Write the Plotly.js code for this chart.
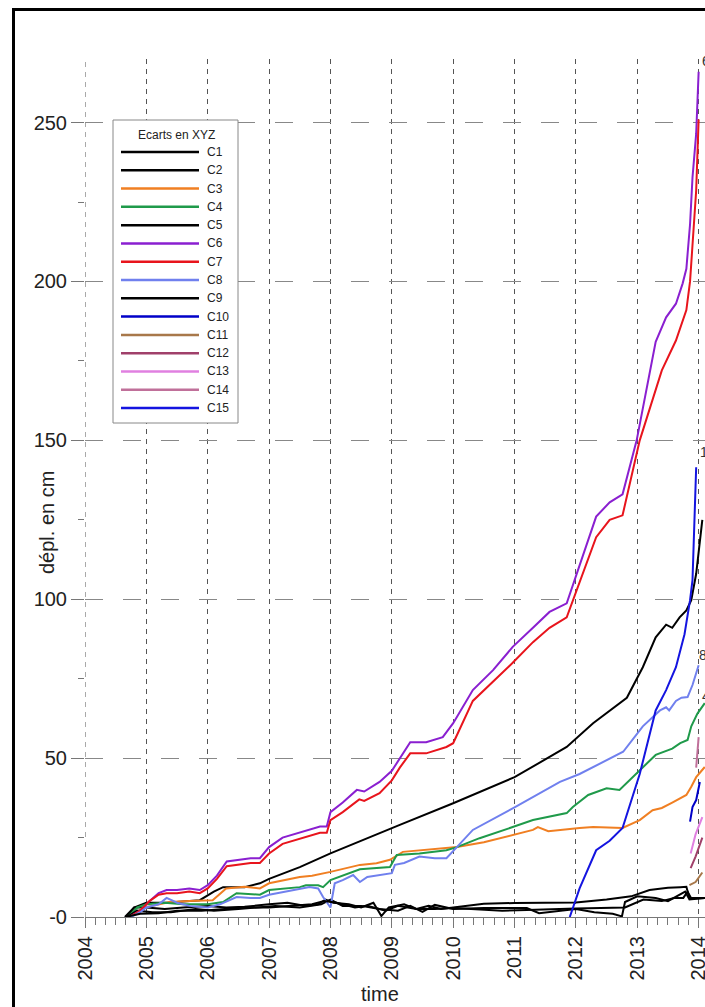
<!DOCTYPE html>
<html><head><meta charset="utf-8">
<script src="https://cdn.plot.ly/plotly-3.0.1.min.js"></script>
<style>
html,body{margin:0;padding:0;overflow:hidden;width:705px;height:1007px;background:#fff}
#chart{position:absolute;left:0;top:0;width:780px;height:1007px}
#frame{position:absolute;left:12px;top:8px;width:900px;height:1200px;border-left:3px solid #000;border-top:3px solid #000;pointer-events:none}
</style></head>
<body><div id="chart"></div><div id="frame"></div>
<script>
// ---- data (decimal years, displacement in cm) ----
const seriesNames = ['C1','C2','C3','C4','C5','C6','C7','C8','C9','C10','C11','C12','C13','C14','C15'];
const seriesColors = ['#000000','#000000','#f07f22','#1f9a4a','#000000','#8a1fd0','#e8141c','#7080ee','#000000','#0000c8','#a8784a','#a0406a','#e080e0','#c0709a','#1414e0'];

const tC1 = [2004.68,2004.8,2005.0,2005.33,2005.87,2006.1,2006.25,2006.6,2006.85,2007.0,2007.5,2008.0,2009.13,2010.0,2011.0,2011.85,2012.28,2012.83,2013.09,2013.3,2013.47,2013.57,2013.69,2013.8,2013.88,2013.96,2014.06];
const vC1 = [0,3,4.5,4.5,5.3,8,9.4,9.4,10.6,12,15.7,20,29,35.8,44,53.5,61,69,78.6,88,92,91,94.3,96.5,99.7,108,125];

const tC2 = [2004.65,2004.8,2005.0,2005.3,2005.6,2006.0,2006.3,2006.6,2007.0,2007.3,2007.6,2007.8,2007.92,2008.05,2008.3,2008.5,2008.7,2008.83,2008.95,2009.2,2009.4,2009.6,2009.8,2010.0,2010.5,2011.0,2011.5,2012.0,2012.5,2012.9,2013.2,2013.5,2013.7,2013.8,2013.85,2013.9,2014.1];
const vC2 = [0,3,3,2.5,3,3.5,3,3.2,4,4.5,3.5,4,5.5,4.5,4,3,4.5,0.3,3,4,2.5,3.5,2.5,3,4.2,4.4,4.4,4.6,5.5,6.5,8.5,9.2,9.4,9.5,6,6,6];

const tC3 = [2004.75,2004.95,2005.1,2005.38,2005.7,2006.08,2006.3,2006.6,2006.85,2007.0,2007.5,2007.7,2008.0,2008.3,2008.48,2008.75,2008.97,2009.18,2009.5,2009.89,2010.06,2010.5,2010.97,2011.3,2011.38,2011.55,2012.06,2012.28,2012.76,2013.04,2013.25,2013.4,2013.57,2013.8,2013.88,2013.96,2014.1];
const vC3 = [0,3,3.5,4.7,5,5.3,9,9.5,9,10.6,12.6,13,14.2,15.5,16.4,16.9,18,20.5,21,21.7,22,23.5,25.8,27.4,28.3,27,28,28.3,28,30.5,33.6,34.3,36,38.4,41,44,47.2];

const tC4 = [2004.7,2004.85,2005.0,2005.3,2005.6,2006.0,2006.25,2006.47,2006.85,2007.0,2007.5,2007.6,2007.8,2007.88,2008.0,2008.3,2008.48,2008.97,2009.08,2009.45,2009.89,2010.06,2010.43,2010.97,2011.3,2011.85,2011.95,2012.2,2012.5,2012.71,2012.87,2013.09,2013.3,2013.57,2013.7,2013.82,2013.88,2013.98,2014.1];
const vC4 = [0,3,4,4.5,4,4,4.7,7.5,7,8.5,9.4,10,10,9.4,11.6,13.8,15,15.7,19.5,20,21,22,24.8,28.3,30.5,32.7,34.6,38.4,40.5,40,43,47,51,53,54.7,55.7,60,64,67.3];

const tC5 = [2004.68,2004.85,2005.1,2005.4,2005.8,2006.1,2006.5,2006.8,2007.1,2007.5,2007.85,2008.0,2008.2,2008.5,2008.8,2009.1,2009.3,2009.5,2009.7,2010.0,2010.5,2011.0,2011.2,2011.4,2011.7,2012.0,2012.3,2012.6,2012.75,2012.8,2013.0,2013.3,2013.5,2013.7,2013.78,2013.85,2014.1];
const vC5 = [0,2,1.5,1.5,2.5,2,2.5,3,3.5,3,4,5.5,3.5,3.5,2.5,2,3.5,1.6,3.8,2.5,2.8,2.8,2.8,1.2,1.8,2.5,1.5,1.0,0.2,4.7,6.5,6,5,7,8,5.5,6];

const tC6 = [2004.72,2004.9,2005.05,2005.2,2005.33,2005.5,2005.7,2005.87,2006.0,2006.15,2006.31,2006.5,2006.7,2006.85,2007.0,2007.22,2007.4,2007.6,2007.83,2007.94,2008.0,2008.2,2008.43,2008.55,2008.8,2009.0,2009.13,2009.3,2009.56,2009.83,2010.0,2010.32,2010.65,2010.97,2011.3,2011.57,2011.85,2012.33,2012.55,2012.76,2012.99,2013.15,2013.3,2013.47,2013.63,2013.74,2013.8,2013.86,2013.9,2013.96,2014.0];
const vC6 = [0,2,5,7.5,8.5,8.5,9,8.5,10,13,17.5,18,18.5,18.5,22,25,26,27,28.5,28.5,33,36,40,39.5,42.5,46,50,55,55,56.6,61,71.4,77.7,85,91,96,98.7,126,130.5,133,150,166,181,188.7,193,199.4,204,218,232.7,246.5,266];

const tC7 = [2004.72,2004.9,2005.05,2005.2,2005.33,2005.5,2005.7,2005.87,2006.0,2006.15,2006.31,2006.5,2006.7,2006.85,2007.0,2007.22,2007.4,2007.6,2007.83,2007.94,2008.0,2008.2,2008.47,2008.55,2008.8,2009.0,2009.13,2009.3,2009.56,2009.89,2010.0,2010.32,2010.65,2010.97,2011.3,2011.57,2011.85,2012.33,2012.55,2012.76,2013.04,2013.2,2013.4,2013.63,2013.8,2013.86,2013.9,2013.96,2014.0];
const vC7 = [0,2,5,7,7.5,7.5,8,7.5,9,12,16,16.5,17,17,20,23,24,25,26.5,26.5,30.5,33,37,36.5,39,43,47,51.5,51.5,53.5,54.7,68,74,80,86.5,91,94.3,119.5,125,126.4,150,160,172,181.4,191,200,213,228.6,251];

const tC8 = [2004.75,2004.9,2005.0,2005.2,2005.33,2005.5,2005.7,2006.0,2006.2,2006.47,2006.7,2006.85,2007.0,2007.3,2007.66,2007.8,2007.88,2008.0,2008.07,2008.2,2008.37,2008.48,2008.6,2009.0,2009.05,2009.2,2009.45,2009.7,2009.89,2010.06,2010.32,2011.0,2011.74,2012.06,2012.77,2013.09,2013.37,2013.47,2013.52,2013.63,2013.72,2013.82,2013.9,2014.0];
const vC8 = [0,1.5,3,4,6,4.5,3.5,3,4,6.3,6,6,7,8,9.4,9,6.3,3,10.6,11.6,13.2,11,12.6,13.8,16.4,17,19,18.5,18.5,22,27.4,34.5,42.5,45,52,60,65,66,65,68,69,69.2,73,79.2];

const tC9 = [2004.66,2004.9,2005.2,2005.5,2005.9,2006.2,2006.6,2007.0,2007.4,2007.7,2007.9,2008.1,2008.4,2008.6,2008.9,2009.1,2009.4,2009.7,2010.0,2010.4,2010.8,2011.2,2011.6,2012.0,2012.4,2012.8,2013.1,2013.4,2013.6,2013.75,2013.82,2013.88,2014.1];
const vC9 = [0,1,1.2,2,2,2.5,3,3,3.5,4,5,4.5,3,3.5,2,3.5,2.5,2.5,2.8,2.5,2,2.2,2.5,2.7,2.8,3,5.5,5,6,6,8,5.8,6];

const tC10 = [2013.86,2013.9,2013.96,2014.02];
const vC10 = [30,34.6,36.8,42.5];
const tC11 = [2013.85,2013.95,2014.06];
const vC11 = [10,11,14];
const tC12 = [2013.87,2013.95,2014.06];
const vC12 = [15.4,19,25];
const tC13 = [2013.87,2013.95,2014.06];
const vC13 = [20,26,31.4];
const tC14 = [2013.96,2013.98,2014.0];
const vC14 = [47,52,56.6];
const tC15 = [2011.9,2012.06,2012.33,2012.55,2012.76,2013.04,2013.3,2013.47,2013.63,2013.77,2013.86,2013.9,2013.96];
const vC15 = [0,9,21,24,28,45,65,71.4,78.6,89,99.7,106,141.5];

const yTickVals = [0,50,100,150,200,250];
const yTickText = ['-0','50','100','150','200','250'];
const endLabels = ['6','15','8','4'];
const endLabelT = [2014.02,2013.99,2013.97,2014.02];
const endLabelV = [269.3,146.3,82.4,69.5];

// ---- build ----
const tArr = [tC1,tC2,tC3,tC4,tC5,tC6,tC7,tC8,tC9,tC10,tC11,tC12,tC13,tC14,tC15];
const vArr = [vC1,vC2,vC3,vC4,vC5,vC6,vC7,vC8,vC9,vC10,vC11,vC12,vC13,vC14,vC15];
const FONT = 'Liberation Sans, Arial, sans-serif';
const traces = seriesNames.map((n,i)=>({
  type:'scatter', mode:'lines', name:n, x:tArr[i], y:vArr[i],
  line:{color:seriesColors[i], width:2}, showlegend:false, hoverinfo:'skip'
}));

// pixel -> paper helpers (plot area: x 85..760, y 59..917)
const PL=85, PW=675, PT=59, PH=858;
const px = p => (p-PL)/PW;
const py = p => (PT+PH-p)/PH;

const shapes = [
  // grid line at the left range edge (2004), which Plotly does not draw itself
  {type:'line', xref:'x', yref:'paper', x0:2004, x1:2004, y0:0, y1:1,
   line:{color:'#555', width:1, dash:'5px,5px'}, layer:'below'},
  {type:'rect', xref:'paper', yref:'paper', x0:px(113), x1:px(238), y0:py(120), y1:py(423),
   line:{color:'#888', width:1}, fillcolor:'#fff', layer:'above'}
];
const annotations = [
  {xref:'paper', yref:'paper', x:px(176), y:py(135), text:'Ecarts en XYZ', showarrow:false,
   font:{family:FONT, size:12, color:'#222'}, xanchor:'center', yanchor:'middle'},
  {xref:'paper', yref:'paper', x:px(47), y:py(523), text:'dépl. en cm', showarrow:false, textangle:-90,
   font:{family:FONT, size:20, color:'#222'}, xanchor:'center', yanchor:'middle'},
  {xref:'paper', yref:'paper', x:px(380), y:py(994), text:'time', showarrow:false,
   font:{family:FONT, size:20, color:'#222'}, xanchor:'center', yanchor:'middle'}
];
seriesNames.forEach((n,i)=>{
  const yy = 152 + i*18.29;
  shapes.push({type:'line', xref:'paper', yref:'paper', x0:px(121), x1:px(199), y0:py(yy), y1:py(yy),
    line:{color:seriesColors[i], width:2.5}, layer:'above'});
  annotations.push({xref:'paper', yref:'paper', x:px(205), y:py(yy), text:n, showarrow:false,
    font:{family:FONT, size:12, color:'#222'}, xanchor:'left', yanchor:'middle'});
});
endLabels.forEach((s,i)=>{
  annotations.push({x:endLabelT[i], y:endLabelV[i], text:s, showarrow:false, xanchor:'left', yanchor:'middle',
    font:{family:FONT, size:14, color:'#333'}});
});

const layout = {
  width:780, height:1007, margin:{l:PL, r:780-PL-PW, t:PT, b:1007-PT-PH},
  paper_bgcolor:'#fff', plot_bgcolor:'#fff', showlegend:false,
  font:{family:FONT, color:'#222'},
  xaxis:{range:[2004,2015], tickmode:'linear', tick0:2004, dtick:1, tickangle:-90,
    tickfont:{family:FONT, size:20, color:'#222'},
    showgrid:true, gridcolor:'#555', griddash:'5px,5px', gridwidth:1,
    showline:true, linecolor:'#777', linewidth:1, zeroline:false,
    ticks:'outside', ticklen:10, tickcolor:'#777', tickwidth:1,
    minor:{tick0:2004, dtick:1/6, ticks:'outside', ticklen:7, tickcolor:'#777', showgrid:false}},
  yaxis:{range:[0,270], tickmode:'array', tickvals:yTickVals, ticktext:yTickText,
    tickfont:{family:FONT, size:20, color:'#222'},
    showgrid:true, gridcolor:'#888', griddash:'18px,20px', gridwidth:1,
    showline:false, zeroline:false,
    ticks:'outside', ticklen:13, tickcolor:'#777', tickwidth:1,
    minor:{tick0:0, dtick:25, ticks:'outside', ticklen:6, tickcolor:'#777', showgrid:false}},
  shapes:shapes, annotations:annotations
};
Plotly.newPlot('chart', traces, layout, {staticPlot:true, displayModeBar:false});
</script></body></html>
